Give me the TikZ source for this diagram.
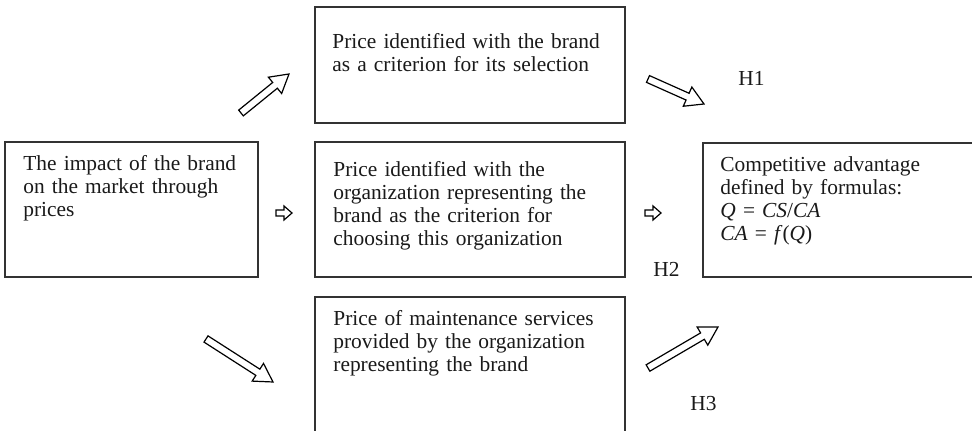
\documentclass[tikz,border=0pt]{standalone}
\usepackage{fontspec}
\setmainfont{Liberation Serif}
\definecolor{boxgray}{HTML}{333333}
\definecolor{txt}{HTML}{1A1A1A}
\newcommand\blockarrow[4]{%
  \pgfmathsetmacro\baang{atan2(#4-#2,#3-#1)}%
  \pgfmathsetmacro\balen{veclen(#3-#1,#4-#2)}%
  \pgfmathsetmacro\baneck{\balen-18}%
  \draw[arrline, shift={(#1,#2)}, rotate=-\baang]
    (0,-3.7) -- (\baneck,-3.7) -- (\baneck,-10.5) -- (\balen,0) -- (\baneck,10.5) -- (\baneck,3.7) -- (0,3.7) -- cycle;}
\newcommand\smallarrow[2]{%
  \draw[smallarr, shift={(#1,#2)}]
    (-8,-3) -- (0,-3) -- (0,-7) -- (8,0) -- (0,7) -- (0,3) -- (-8,3) -- cycle;}
\begin{document}
\begin{tikzpicture}[x=0.5pt,y=-0.5pt,
  boxline/.style={draw=boxgray, line width=0.8pt},
  boxtext/.style={anchor=base west, inner sep=0pt, text width=150pt, align=left, text=txt,
     font=\fontsize{10.7}{11.5}\selectfont},
  hlabel/.style={anchor=base west, inner sep=0pt, text=txt, font=\fontsize{10.7}{11.5}\selectfont},
  arrline/.style={draw=black, line width=0.6pt, line join=miter},
  smallarr/.style={draw=black, line width=0.6pt, line join=miter}]
\clip (0,0) rectangle (972,431);
\fill[white] (0,0) rectangle (972,431);
% boxes
\draw[boxline] (315,7) rectangle (625,123);
\draw[boxline] (315,142) rectangle (625,277);
\draw[boxline] (5,142) rectangle (258,277);
\draw[boxline] (703,143) rectangle (990,277);
\draw[boxline] (315,297) rectangle (625,450);
% texts
\node[boxtext] (ttop) at (332,49) {Price identified with the brand\\as a criterion for its selection};
\node[boxtext] (tmid) at (333,177) {Price identified with the\\organization representing the\\brand as the criterion for\\choosing this organization};
\node[boxtext] (tleft) at (23,171) {The impact of the brand\\on the market through\\prices};
\node[boxtext] (tright) at (720,172) {Competitive advantage\\defined by formulas:\\\textit{Q} = \textit{CS}/\textit{CA}\\\textit{CA} = \textit{f}(\textit{Q})};
\node[boxtext] (tbot) at (333,326) {Price of maintenance services\\provided by the organization\\representing the brand};
% labels
\node[hlabel] (h1) at (738,86) {H1};
\node[hlabel] (h2) at (653,277) {H2};
\node[hlabel] (h3) at (690,411) {H3};
% arrows
\blockarrow{241}{113}{289}{74}
\blockarrow{648}{79}{704}{104}
\blockarrow{206}{339}{273}{382}
\blockarrow{648}{368}{718}{327}
\smallarrow{284}{213}
\smallarrow{653}{213}
\end{tikzpicture}
\end{document}
